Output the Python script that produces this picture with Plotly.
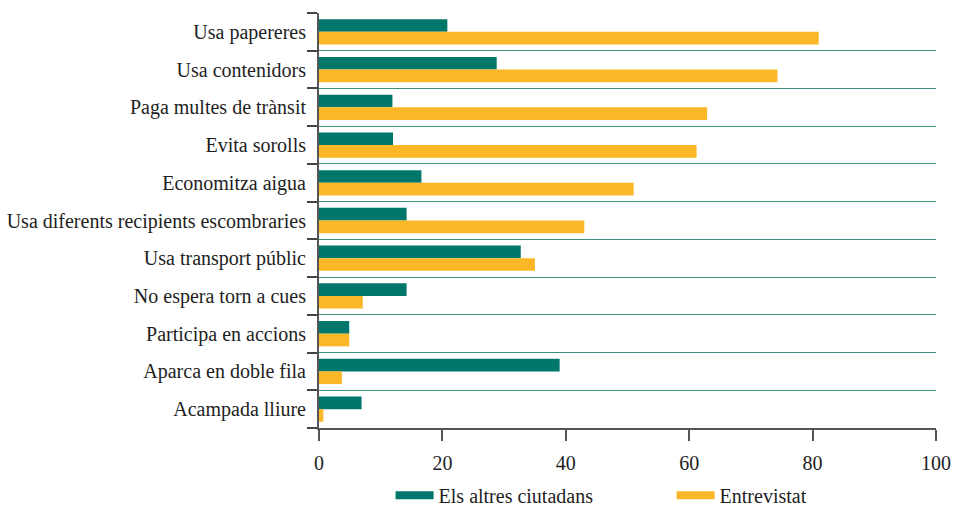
import plotly.graph_objects as go

categories = [
    "Usa papereres",
    "Usa contenidors",
    "Paga multes de trànsit",
    "Evita sorolls",
    "Economitza aigua",
    "Usa diferents recipients escombraries",
    "Usa transport públic",
    "No espera torn a cues",
    "Participa en accions",
    "Aparca en doble fila",
    "Acampada lliure",
]
altres = [20.8, 28.8, 11.9, 12.0, 16.6, 14.2, 32.7, 14.2, 4.9, 39.0, 6.9]
entrevistat = [81.0, 74.3, 62.9, 61.2, 51.0, 43.0, 35.0, 7.1, 4.9, 3.7, 0.7]
series_names = ["Els altres ciutadans", "Entrevistat"]
x_ticks = [0, 20, 40, 60, 80, 100]

GREEN = "#00776a"
ORANGE = "#fbb726"
FONT = "Liberation Serif"

pos = list(range(len(categories)))

fig = go.Figure()
fig.add_trace(go.Bar(y=pos, x=altres, orientation="h", marker_color=GREEN,
                     marker_line_width=0, name=series_names[0], showlegend=False))
fig.add_trace(go.Bar(y=pos, x=entrevistat, orientation="h", marker_color=ORANGE,
                     marker_line_width=0, name=series_names[1], showlegend=False))
fig.add_trace(go.Scatter(x=[None], y=[None], mode="lines",
                         line=dict(color=GREEN, width=8), name=series_names[0]))
fig.add_trace(go.Scatter(x=[None], y=[None], mode="lines",
                         line=dict(color=ORANGE, width=8), name=series_names[1]))

boundaries = [i - 0.5 for i in range(len(categories) + 1)]

fig.update_layout(
    width=954, height=510,
    margin=dict(l=319, r=18, t=13, b=82, autoexpand=False),
    paper_bgcolor="white", plot_bgcolor="white",
    font=dict(family=FONT, size=20, color="#1e1e1e"),
    barmode="group", bargap=0.33, bargroupgap=0,
    showlegend=True,
    legend=dict(orientation="h", x=0.116, xanchor="left", y=-0.162, yanchor="middle",
                font=dict(family=FONT, size=20, color="#1e1e1e"),
                itemwidth=38,
                entrywidth=228, entrywidthmode="pixels", traceorder="normal",
                bgcolor="rgba(0,0,0,0)"),
    xaxis=dict(range=[0, 100], tickvals=x_ticks, ticktext=[str(v) for v in x_ticks],
               showgrid=False, zeroline=False, showline=True, linecolor="#555555",
               linewidth=2, ticks="outside", ticklen=11, tickwidth=1.5,
               tickcolor="#555555", ticklabelstandoff=5, automargin=False),
    yaxis=dict(range=[len(categories) - 0.5, -0.5], tickvals=pos, ticktext=categories,
               showgrid=False, zeroline=False, showline=True, linecolor="#555555",
               linewidth=2, ticks="", ticklabelstandoff=7, automargin=False,
               minor=dict(tickvals=boundaries, ticks="outside", ticklen=10,
                          tickwidth=1.5, tickcolor="#444444", showgrid=True,
                          gridcolor="#3a8f80", gridwidth=1.2)),
)

fig.write_html("out.html", config={"displayModeBar": False},
               post_script="document.body.style.margin='0';")
